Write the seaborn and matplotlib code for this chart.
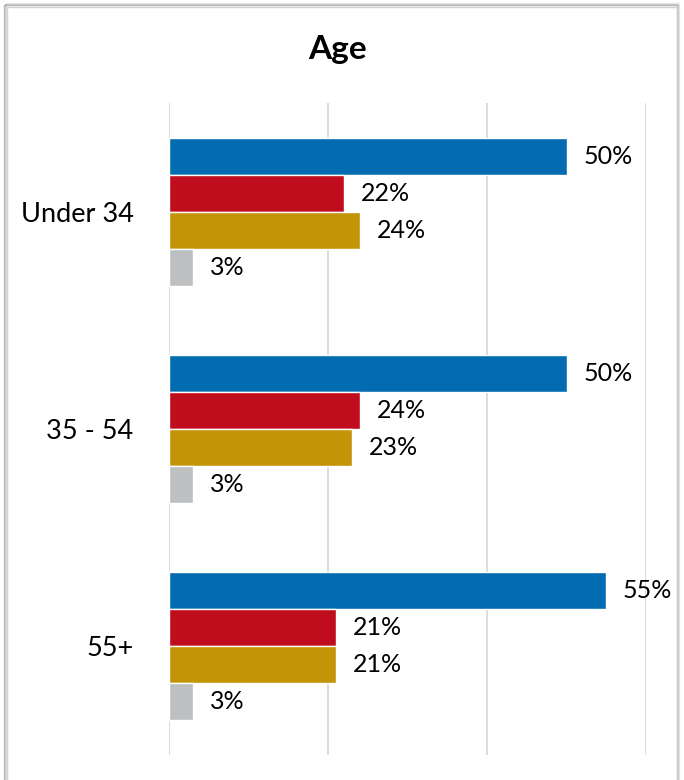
import matplotlib
matplotlib.use("Agg")
import matplotlib.pyplot as plt
from matplotlib.patches import Rectangle
import seaborn as sns
import pandas as pd

categories = ["Under 34", "35 - 54", "55+"]
series = ["A", "B", "C", "D"]
values = {
    "A": [50, 50, 55],
    "B": [22, 24, 21],
    "C": [24, 23, 21],
    "D": [3, 3, 3],
}
colors = ["#036CB0", "#C00D1E", "#C49408", "#BEBFC1"]
x_ticks = [0, 20, 40, 60]

rows = []
for s in series:
    for c, v in zip(categories, values[s]):
        rows.append({"age": c, "series": s, "value": v})
df = pd.DataFrame(rows)

sns.set_style("white")
plt.rcParams["font.family"] = ["Lato", "DejaVu Sans"]
plt.rcParams["text.color"] = "black"
plt.rcParams["ytick.color"] = "black"
plt.rcParams["ytick.labelcolor"] = "black"

W, H = 684, 780
fig = plt.figure(figsize=(W / 100, H / 100), dpi=100)
ax = fig.add_axes([169 / W, 1 - 755 / H, (646 - 169) / W, (755 - 103) / H])

sns.barplot(data=df, y="age", x="value", hue="series", orient="h",
            palette=colors, saturation=1, width=0.68, edgecolor="white",
            linewidth=1, errorbar=None, ax=ax, legend=False)

ax.set_xlim(0, 60)
ax.set_ylim(2.5, -0.5)
ax.set_xticks(x_ticks)
ax.xaxis.grid(True, color="#d9d9d9", linewidth=1.3)
ax.set_axisbelow(True)
ax.tick_params(axis="x", bottom=False, labelbottom=False)
ax.tick_params(axis="y", left=False, labelsize=19.5, pad=22, labelcolor="black")
for sp in ax.spines.values():
    sp.set_visible(False)
ax.set_xlabel("")
ax.set_ylabel("")

for cont in ax.containers:
    ax.bar_label(cont, labels=[f"{v:.0f}%" for v in cont.datavalues],
                 padding=12, fontsize=18, color="black")

fig.text(338 / W, 1 - 50 / H, "Age", ha="center", va="center",
         fontsize=24, fontweight="bold", color="black")

# outer frame with a soft shadow on the sides
for i, a in enumerate([0.25, 0.15, 0.08]):
    fig.add_artist(Rectangle(((4 + i) / W, -0.05), 673 / W, 1.05 - (5 - i) / H,
                             transform=fig.transFigure, fill=False,
                             edgecolor=(0, 0, 0, a), linewidth=1))
fig.add_artist(Rectangle((7 / W, -0.05), 670 / W, 1.05 - 7 / H,
                         transform=fig.transFigure, fill=False,
                         edgecolor="#d0d0d0", linewidth=1))

fig.savefig("out.png", dpi=100)
